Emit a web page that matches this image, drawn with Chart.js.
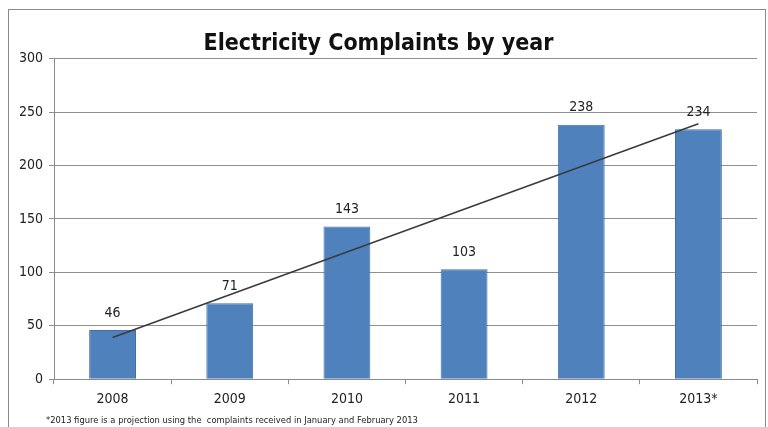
<!DOCTYPE html>
<html><head><meta charset="utf-8">
<script src="https://cdn.jsdelivr.net/npm/chart.js@4"></script>
<style>
html,body{margin:0;padding:0;background:#fff;}
#wrap{position:relative;width:768px;height:427px;}
#frame{position:absolute;left:8px;top:9px;width:758px;height:430px;border:1px solid #8a8a8a;box-sizing:border-box;pointer-events:none;}
canvas{position:absolute;left:0;top:0;}
</style></head>
<body><div id="wrap"><canvas id="c" width="768" height="427"></canvas><div id="frame"></div></div>
<script>
const categories = ['2008','2009','2010','2011','2012','2013*'];
const complaints = [46, 71, 143, 103, 238, 234];
const trendValues = [39, null, null, null, null, 239];
const yTicks = [0, 50, 100, 150, 200, 250, 300];
const titleText = 'Electricity Complaints by year';
const footnote = '*2013 figure is a projection using the  complaints received in January and February 2013';

const FONT = "'Liberation Sans Narrow', 'DejaVu Sans Condensed', 'Liberation Sans', sans-serif";

const valueLabels = {
  id: 'valueLabels',
  afterDatasetsDraw(chart) {
    const meta = chart.getDatasetMeta(0);
    const ctx = chart.ctx;
    ctx.save();
    ctx.font = '14px ' + FONT;
    ctx.fillStyle = '#222';
    ctx.textAlign = 'center';
    ctx.textBaseline = 'bottom';
    meta.data.forEach((bar, i) => {
      ctx.fillText(String(complaints[i]), bar.x, bar.y - 10);
    });
    ctx.restore();
  }
};

const footnotePlugin = {
  id: 'footnotePlugin',
  afterDraw(chart) {
    const ctx = chart.ctx;
    ctx.save();
    ctx.font = '9.3px ' + FONT;
    ctx.fillStyle = '#222';
    ctx.textAlign = 'left';
    ctx.textBaseline = 'middle';
    ctx.fillText(footnote, 46, 421);
    ctx.restore();
  }
};

new Chart(document.getElementById('c'), {
  data: {
    labels: categories,
    datasets: [
      {
        type: 'bar',
        data: complaints,
        backgroundColor: '#4F81BD',
        borderColor: '#3f6fa6',
        borderWidth: 1,
        categoryPercentage: 1,
        barPercentage: 0.4,
        order: 2
      },
      {
        type: 'line',
        data: trendValues,
        spanGaps: true,
        borderColor: '#3a3a3a',
        borderWidth: 1.5,
        pointRadius: 0,
        fill: false,
        order: 1
      }
    ]
  },
  options: {
    responsive: false,
    animation: false,
    layout: { padding: { left: 0, right: 11, top: 30, bottom: 12 } },
    plugins: {
      legend: { display: false },
      tooltip: { enabled: false },
      title: {
        display: true,
        text: titleText,
        color: '#111',
        font: { family: FONT, size: 23, weight: 'bold' },
        padding: { top: 0, bottom: 1 }
      }
    },
    scales: {
      x: {
        grid: { display: true, drawOnChartArea: false, offset: true, color: '#8a8a8a', tickLength: 5 },
        border: { display: true, color: '#8a8a8a' },
        ticks: { color: '#222', font: { family: FONT, size: 14 }, padding: 7 }
      },
      y: {
        min: 0, max: 300,
        afterBuildTicks(scale) { scale.ticks = yTicks.map(v => ({ value: v })); },
        afterFit(scale) { scale.width = 54; },
        grid: { color: '#8f8f8f', tickLength: 5, lineWidth: 1 },
        border: { display: true, color: '#8a8a8a' },
        ticks: { color: '#222', font: { family: FONT, size: 14 }, padding: 6 }
      }
    }
  },
  plugins: [valueLabels, footnotePlugin]
});
</script></body></html>
